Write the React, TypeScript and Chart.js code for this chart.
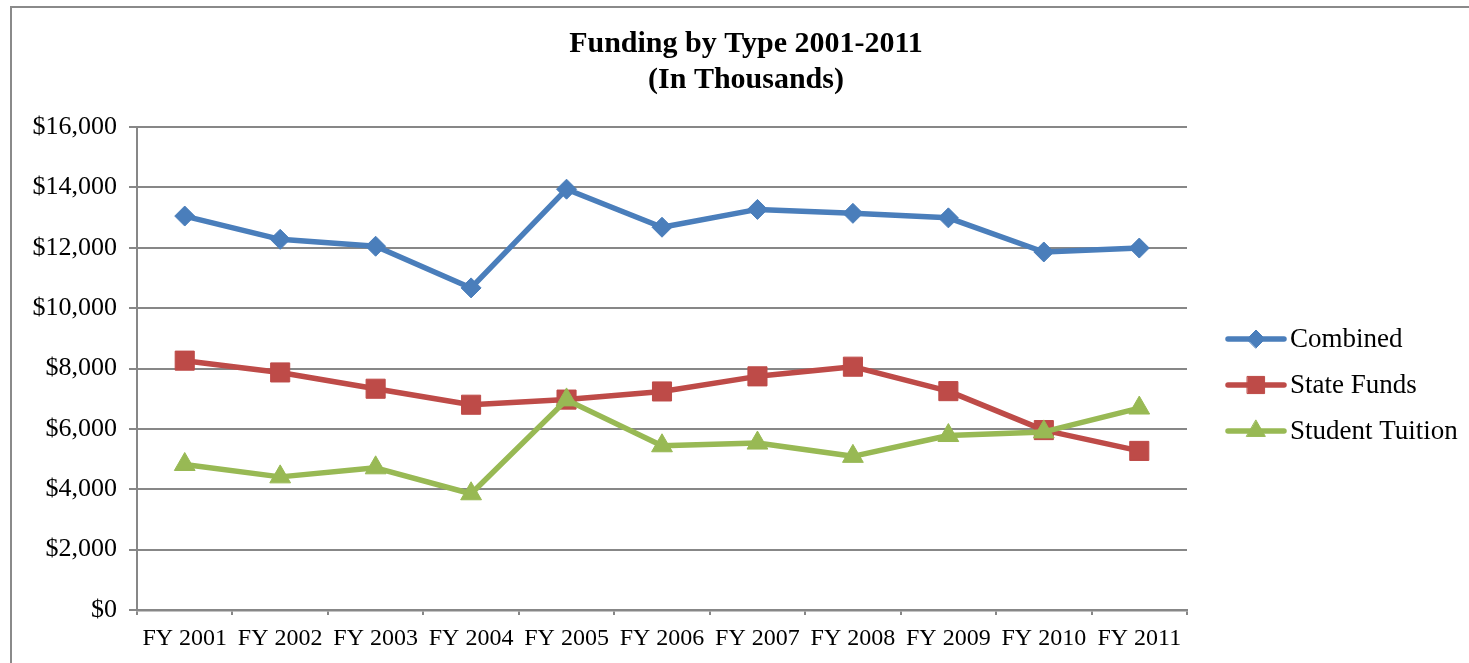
import React, { useEffect, useRef } from 'react';
import { Chart, registerables } from 'chart.js';
import { drawPoint } from 'chart.js/helpers';

Chart.register(...registerables);

const categories = ['FY 2001', 'FY 2002', 'FY 2003', 'FY 2004', 'FY 2005', 'FY 2006', 'FY 2007', 'FY 2008', 'FY 2009', 'FY 2010', 'FY 2011'];
const combined = [13050, 12280, 12050, 10670, 13940, 12680, 13270, 13140, 12990, 11860, 11990];
const stateFunds = [8260, 7870, 7330, 6800, 6970, 7240, 7740, 8060, 7250, 5960, 5270];
const studentTuition = [4820, 4410, 4710, 3850, 6960, 5440, 5530, 5090, 5780, 5900, 6690];
const seriesNames = ['Combined', 'State Funds', 'Student Tuition'];
const titleLines = ['Funding by Type 2001-2011', '(In Thousands)'];
const yMin = 0;
const yMax = 16000;
const yStep = 2000;

const FONT = '"Liberation Serif", "Times New Roman", Times, serif';
const GRID = '#878787';

const sideLegend = {
  id: 'sideLegend',
  afterDraw(chart: any) {
    const { ctx, chartArea } = chart;
    const datasets = chart.data.datasets;
    const x0 = chartArea.right + 41;
    const rowGap = 46;
    const midY = (chartArea.top + chartArea.bottom) / 2 + 16.5;
    const startY = midY - (rowGap * (datasets.length - 1)) / 2;
    ctx.save();
    datasets.forEach((ds: any, i: number) => {
      const y = startY + i * rowGap;
      ctx.strokeStyle = ds.borderColor;
      ctx.lineWidth = ds.borderWidth;
      ctx.lineCap = 'round';
      ctx.beginPath();
      ctx.moveTo(x0, y);
      ctx.lineTo(x0 + 56, y);
      ctx.stroke();
      ctx.fillStyle = ds.pointBackgroundColor;
      ctx.strokeStyle = ds.pointBorderColor;
      ctx.lineWidth = 1;
      drawPoint(ctx, { pointStyle: ds.pointStyle, radius: ds.pointRadius * 0.9, borderWidth: 1, rotation: 0 } as any, x0 + 28, y);
      ctx.fillStyle = '#000';
      ctx.font = `27px ${FONT}`;
      ctx.textBaseline = 'middle';
      ctx.textAlign = 'left';
      ctx.fillText(ds.label, x0 + 62, y + 1);
    });
    ctx.restore();
  },
};

export default function App() {
  const ref = useRef<HTMLCanvasElement | null>(null);

  useEffect(() => {
    const canvas = ref.current;
    if (!canvas) return;
    const mk = (label: string, data: number[], color: string, style: string, r: number, order: number) => ({
      label,
      data,
      borderColor: color,
      backgroundColor: color,
      pointBackgroundColor: color,
      pointBorderColor: color,
      pointBorderWidth: 1,
      borderWidth: 5.5,
      pointStyle: style,
      pointRadius: r,
      borderJoinStyle: 'round',
      borderCapStyle: 'round',
      tension: 0,
      order,
    });
    const chart = new Chart(canvas, {
      type: 'line',
      data: {
        labels: categories,
        datasets: [
          mk(seriesNames[0], combined, '#4A7EBB', 'rectRot', 10, 2),
          mk(seriesNames[1], stateFunds, '#BE4B48', 'rect', 13.5, 1),
          mk(seriesNames[2], studentTuition, '#98B954', 'triangle', 12, 0),
        ] as any,
      },
      options: {
        animation: false,
        responsive: false,
        devicePixelRatio: 1,
        events: [],
        layout: { padding: 0 },
        plugins: {
          legend: { display: false },
          tooltip: { enabled: false },
          title: {
            display: true,
            text: titleLines,
            color: '#000',
            font: { family: FONT, size: 30, weight: 'bold', lineHeight: 36 / 30 },
            padding: { top: 26, bottom: 29 },
          },
        },
        scales: {
          x: {
            type: 'category',
            offset: true,
            grid: {
              offset: true,
              drawOnChartArea: false,
              drawTicks: true,
              tickLength: 5,
              color: GRID,
              lineWidth: 2,
            },
            border: { display: true, color: GRID, width: 2.5 },
            ticks: {
              color: '#000',
              font: { family: FONT, size: 24 },
              padding: 9,
              maxRotation: 0,
              autoSkip: false,
            },
            afterFit: (scale: any) => {
              scale.height = 53;
            },
          },
          y: {
            type: 'linear',
            position: 'left',
            min: yMin,
            max: yMax,
            ticks: {
              stepSize: yStep,
              color: '#000',
              font: { family: FONT, size: 26 },
              padding: 12,
              callback: (v: any) => '$' + Number(v).toLocaleString('en-US'),
            },
            grid: { color: GRID, lineWidth: 2, tickLength: 8, drawTicks: true },
            border: { display: true, color: GRID, width: 2 },
            afterFit: (scale: any) => {
              scale.width = 137;
            },
          },
          legendSpace: {
            type: 'linear',
            axis: 'y',
            position: 'right',
            display: true,
            ticks: { display: false },
            grid: { display: false, drawTicks: false },
            border: { display: false },
            afterFit: (scale: any) => {
              scale.width = 305;
            },
          },
        },
      } as any,
      plugins: [sideLegend],
    });
    return () => chart.destroy();
  }, []);

  return (
    <div style={{ position: 'fixed', left: 0, top: 0, width: 1469, height: 663, overflow: 'hidden', background: '#fff' }}>
      <div
        style={{
          position: 'absolute',
          left: 10,
          top: 6,
          width: 1520,
          height: 720,
          border: '2px solid #8a8a8a',
          boxSizing: 'border-box',
        }}
      />
      <canvas ref={ref} width={1492} height={663} style={{ position: 'absolute', left: 0, top: 0, width: 1492, height: 663 }} />
    </div>
  );
}
